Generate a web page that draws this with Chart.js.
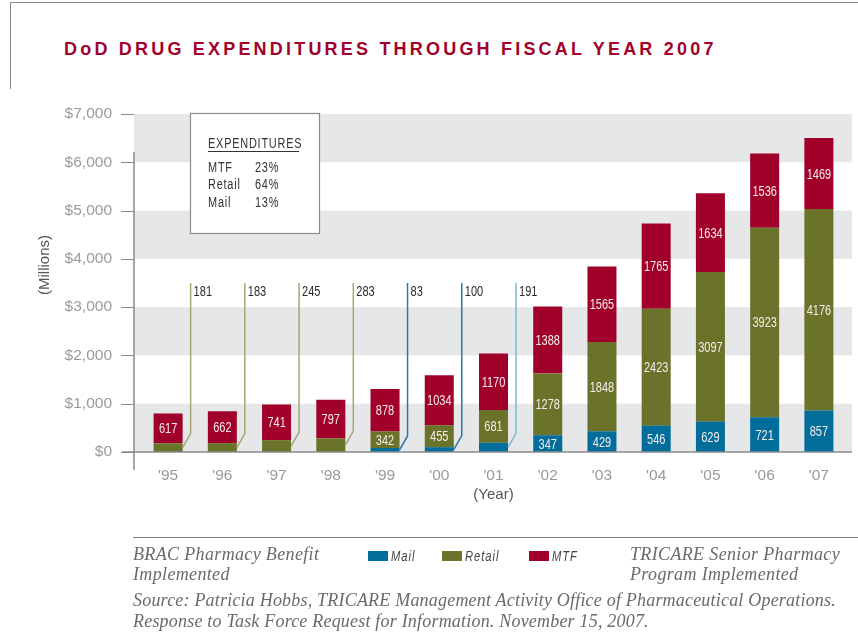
<!DOCTYPE html>
<html>
<head>
<meta charset="utf-8">
<title>DoD Drug Expenditures Through Fiscal Year 2007</title>
<script src="https://cdn.jsdelivr.net/npm/chart.js@4.4.1/dist/chart.umd.min.js"></script>
<style>
  html, body { margin: 0; padding: 0; background: #fff; }
  #wrap { position: relative; width: 858px; height: 634px; overflow: hidden; }
  #frame {
    position: absolute; left: 10px; top: 2px; width: 848px; height: 86px;
    border-top: 1.5px solid #8a8a8a; border-left: 1.5px solid #8a8a8a;
  }
  #title {
    position: absolute; left: 64px; top: 39px; line-height: 20px;
    font: bold 18px 'Liberation Sans', Arial, sans-serif;
    letter-spacing: 3.2px; color: #a1002b; white-space: nowrap;
  }
  canvas { position: absolute; left: 0; top: 0; }
  #rule { position: absolute; left: 133px; top: 537px; width: 725px; border-top: 1.5px solid #7a7a7a; }
  .note {
    position: absolute; white-space: nowrap; color: #6a6a6a;
    font: italic 18px 'Liberation Serif', 'Times New Roman', serif;
    letter-spacing: 0.35px;
  }
  #brac { left: 133px; top: 545px; line-height: 19.5px; }
  #senior { left: 630px; top: 545px; line-height: 19.5px; }
  #source { left: 133px; top: 590px; line-height: 21px; letter-spacing: 0.2px; }
  #legend { position: absolute; left: 368px; top: 548px; display: flex; align-items: center; height: 16px; }
  #legend .item { display: flex; align-items: center; margin-right: 21px; }
  #legend .swatch { width: 20px; height: 10px; margin-right: 3px; }
  #legend .text {
    display: inline-block; font: italic 14px 'Liberation Sans', Arial, sans-serif;
    letter-spacing: 1.2px; color: #444; transform: scaleX(0.8); transform-origin: left center;
  }
</style>
</head>
<body>
<div id="wrap">
  <div id="frame"></div>
  <div id="title">DoD DRUG EXPENDITURES THROUGH FISCAL YEAR 2007</div>
  <canvas id="drugChart" width="858" height="634"></canvas>
  <div id="rule"></div>
  <div class="note" id="brac">BRAC Pharmacy Benefit<br>Implemented</div>
  <div id="legend"></div>
  <div class="note" id="senior">TRICARE Senior Pharmacy<br>Program Implemented</div>
  <div class="note" id="source">Source: Patricia Hobbs, TRICARE Management Activity Office of Pharmaceutical Operations.<br>Response to Task Force Request for Information. November 15, 2007.</div>
</div>
<script>
// fiscal years and spending by channel ($ millions)
const years = ["'95", "'96", "'97", "'98", "'99", "'00", "'01", "'02", "'03", "'04", "'05", "'06", "'07"];
const mail = [0, 0, 0, 0, 83, 100, 191, 347, 429, 546, 629, 721, 857];
const retail = [181, 183, 245, 283, 342, 455, 681, 1278, 1848, 2423, 3097, 3923, 4176];
const mtf = [617, 662, 741, 797, 878, 1034, 1170, 1388, 1565, 1765, 1634, 1536, 1469];

// y axis ticks
const yTicks = [0, 1000, 2000, 3000, 4000, 5000, 6000, 7000];

// small segments get a leader line instead of an inside label
const calloutYears = ["'95", "'96", "'97", "'98", "'99", "'00", "'01"];
const calloutSeries = ['Retail', 'Retail', 'Retail', 'Retail', 'Mail', 'Mail', 'Mail'];
const calloutColors = ['#a3a970', '#a3a970', '#a3a970', '#a3a970', '#2a78a8', '#2a78a8', '#7fb6d6'];
const calloutTop = 3500;

// share of spending box
const shareNames = ['MTF', 'Retail', 'Mail'];
const sharePct = [23, 64, 13];

const colors = { Mail: '#006d9b', Retail: '#6a7329', MTF: '#a1002b' };
const narrow = "'Liberation Sans', Arial, sans-serif";

// draw condensed text by squeezing the context horizontally
function narrowText(ctx, text, x, y, size, align, squeeze) {
  ctx.save();
  ctx.font = size + 'px ' + narrow;
  ctx.textAlign = align;
  ctx.textBaseline = 'middle';
  ctx.translate(x, y);
  ctx.scale(squeeze, 1);
  ctx.fillText(text, 0, 0);
  ctx.restore();
}

const decor = {
  id: 'decor',
  beforeDatasetsDraw(chart) {
    const { ctx, chartArea, scales: { y } } = chart;
    const left = chartArea.left - 7, right = chartArea.right + 6;
    ctx.save();
    ctx.fillStyle = '#e6e7e9';
    for (let v = 0; v < 7000; v += 2000) {
      const top = y.getPixelForValue(v + 1000), bot = y.getPixelForValue(v);
      ctx.fillRect(left, top, right - left, bot - top);
    }
    ctx.restore();
  },
  afterDatasetsDraw(chart) {
    const { ctx, chartArea, scales: { x, y } } = chart;
    const axisX = chartArea.left - 7;
    ctx.save();

    // axis lines and tick marks
    ctx.strokeStyle = '#8a8a8a';
    ctx.lineWidth = 1.5;
    ctx.beginPath();
    ctx.moveTo(axisX - 12, chartArea.bottom);
    ctx.lineTo(chartArea.right + 6, chartArea.bottom);
    ctx.moveTo(axisX, chartArea.top + 38);
    ctx.lineTo(axisX, chartArea.bottom + 18);
    ctx.stroke();
    ctx.lineWidth = 1.2;
    ctx.beginPath();
    y.ticks.forEach(t => {
      const py = Math.round(y.getPixelForValue(t.value)) + 0.5;
      ctx.moveTo(axisX - 13, py);
      ctx.lineTo(axisX, py);
    });
    ctx.stroke();

    // y axis title
    ctx.save();
    ctx.translate(45, 265);
    ctx.rotate(-Math.PI / 2);
    ctx.fillStyle = '#555';
    ctx.font = '15px ' + narrow;
    ctx.textAlign = 'center';
    ctx.textBaseline = 'middle';
    ctx.fillText('(Millions)', 0, 0);
    ctx.restore();

    // values inside the stacked segments
    const called = {};
    calloutYears.forEach((yr, k) => { called[calloutSeries[k] + yr] = k; });
    ctx.fillStyle = '#f4ecec';
    chart.data.datasets.forEach((ds, di) => {
      const meta = chart.getDatasetMeta(di);
      meta.data.forEach((bar, i) => {
        const v = ds.data[i];
        if (!v || (ds.label + years[i]) in called) return;
        narrowText(ctx, String(v), bar.x, (bar.y + bar.base) / 2 + 1, 14.5, 'center', 0.76);
      });
    });

    // leader lines for the thin segments
    calloutYears.forEach((yr, k) => {
      const di = chart.data.datasets.findIndex(d => d.label === calloutSeries[k]);
      const i = years.indexOf(yr);
      const bar = chart.getDatasetMeta(di).data[i];
      const edge = bar.x + bar.width / 2;
      const mid = (bar.y + bar.base) / 2;
      const vx = edge + 8;
      const top = y.getPixelForValue(calloutTop);
      ctx.strokeStyle = calloutColors[k];
      ctx.lineWidth = 1.5;
      ctx.beginPath();
      ctx.moveTo(edge, mid);
      ctx.lineTo(vx, mid - 14);
      ctx.lineTo(vx, top);
      ctx.stroke();
      ctx.fillStyle = '#2a2a2a';
      narrowText(ctx, String(chart.data.datasets[di].data[i]), vx + 3, top + 9, 14.5, 'left', 0.76);
    });

    // expenditure share box
    const bx = 190, by = 113, bw = 129, bh = 120;
    ctx.fillStyle = '#fff';
    ctx.fillRect(bx, by, bw, bh);
    ctx.strokeStyle = '#8c8c8c';
    ctx.lineWidth = 1.2;
    ctx.strokeRect(bx + 0.5, by + 0.5, bw, bh);
    ctx.fillStyle = '#333';
    ctx.letterSpacing = '1px';
    narrowText(ctx, 'EXPENDITURES', bx + 18, by + 31, 14, 'left', 0.78);
    ctx.fillRect(bx + 18, by + 38, 91, 1);
    shareNames.forEach((n, k) => {
      const ry = by + 55 + k * 17.5;
      narrowText(ctx, n, bx + 18, ry, 14, 'left', 0.78);
      narrowText(ctx, sharePct[k] + '%', bx + 65, ry, 14, 'left', 0.78);
    });
    ctx.restore();
  }
};

const chart = new Chart(document.getElementById('drugChart'), {
  type: 'bar',
  data: {
    labels: years,
    datasets: [
      { label: 'Mail', data: mail, backgroundColor: colors.Mail },
      { label: 'Retail', data: retail, backgroundColor: colors.Retail },
      { label: 'MTF', data: mtf, backgroundColor: colors.MTF }
    ]
  },
  options: {
    responsive: false,
    animation: false,
    devicePixelRatio: 1,
    layout: { padding: { top: 114, right: 12, bottom: 130, left: 0 } },
    datasets: { bar: { barPercentage: 0.535, categoryPercentage: 1, borderWidth: 0 } },
    plugins: { legend: { display: false }, tooltip: { enabled: false } },
    scales: {
      x: {
        stacked: true,
        offset: true,
        grid: { display: false, drawTicks: false },
        border: { display: false },
        ticks: { color: '#9a9a9a', font: { family: narrow, size: 15.5 }, padding: 14 },
        title: { display: true, text: '(Year)', color: '#555', font: { family: narrow, size: 15 }, padding: 0 },
        afterFit(scale) { scale.height = 52; }
      },
      y: {
        stacked: true,
        min: 0,
        max: 7000,
        grid: { display: false, drawTicks: false },
        border: { display: false },
        afterBuildTicks(scale) { scale.ticks = yTicks.map(v => ({ value: v })); },
        ticks: {
          color: '#9a9a9a',
          font: { family: narrow, size: 15.5 },
          padding: 29,
          callback: v => '$' + v.toLocaleString('en-US')
        },
        afterFit(scale) { scale.width = 141; }
      }
    }
  },
  plugins: [decor]
});

// legend row built from the datasets
const legend = document.getElementById('legend');
chart.data.datasets.forEach(ds => {
  const item = document.createElement('div');
  item.className = 'item';
  const sw = document.createElement('span');
  sw.className = 'swatch';
  sw.style.background = ds.backgroundColor;
  const tx = document.createElement('span');
  tx.className = 'text';
  tx.textContent = ds.label;
  item.appendChild(sw);
  item.appendChild(tx);
  legend.appendChild(item);
});
</script>
</body>
</html>
